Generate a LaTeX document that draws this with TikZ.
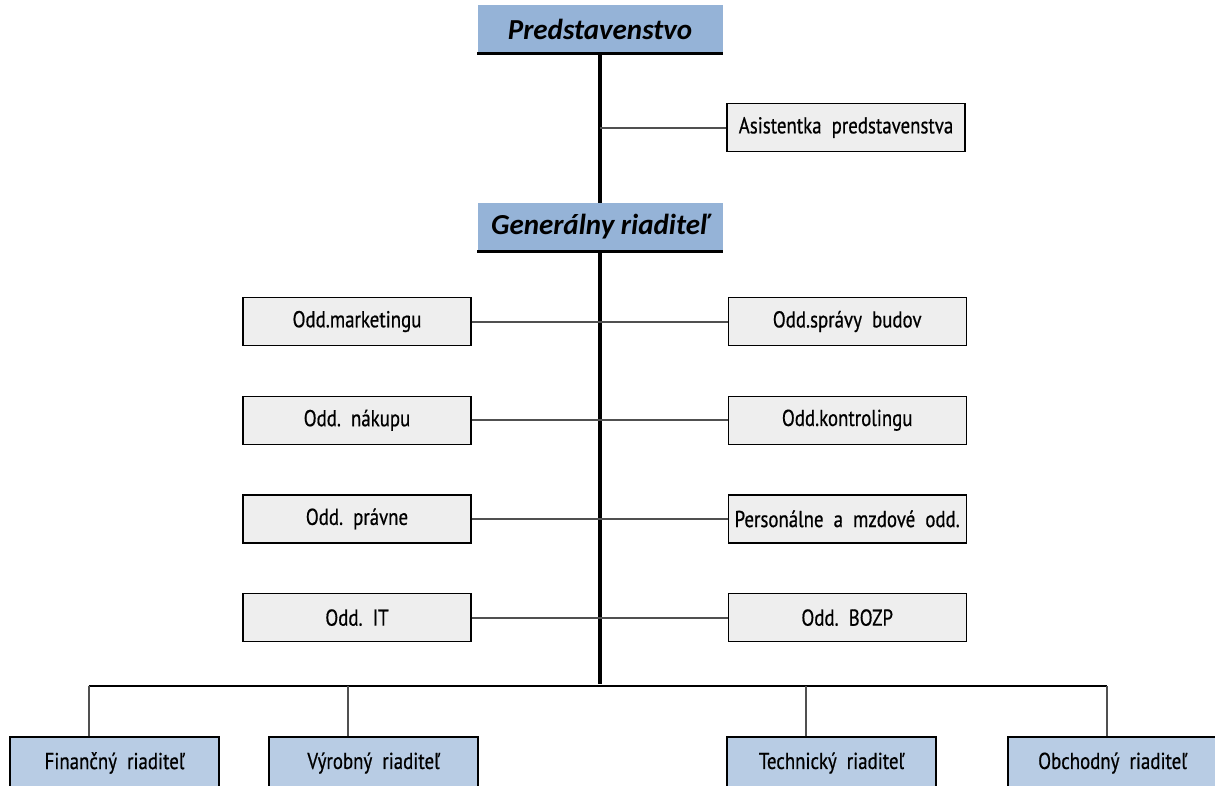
\documentclass[tikz,border=0pt]{standalone}
\usepackage{fontspec}
\setmainfont{Carlito}
\newfontfamily\narrowfont[FakeStretch=0.82,FakeBold=0.6]{PT Sans}
\usetikzlibrary{positioning}
\definecolor{headblue}{HTML}{95B3D7}
\definecolor{lowblue}{HTML}{B8CCE4}
\definecolor{boxgray}{HTML}{EEEEEE}
\definecolor{linegray}{HTML}{505050}

\begin{document}
\begin{tikzpicture}[x=1pt,y=-1pt,node distance=49.5pt and 256pt,thick]
\tikzstyle{head}=[rectangle,fill=headblue,minimum width=245pt,minimum height=48pt,inner sep=0pt,font=\fontsize{29}{33}\selectfont\bfseries\itshape]
\tikzstyle{dept}=[rectangle,draw,fill=boxgray,line width=1.2pt,minimum width=228pt,minimum height=48pt,inner sep=0pt,font=\narrowfont\fontsize{23}{26}\selectfont]
\tikzstyle{wide}=[dept,minimum width=238pt]
\tikzstyle{chief}=[rectangle,draw,fill=lowblue,line width=1.5pt,minimum width=209pt,minimum height=52pt,inner sep=0pt,font=\narrowfont\fontsize{23}{26}\selectfont]
\tikzstyle{link}=[draw=linegray,line width=2pt]
\useasboundingbox (0,0) rectangle (1215,785);

% top of the chart
\node[head] (board) at (600,29) {Predstavenstvo};
\node[head] (gm) at (600,227) {Generálny riaditeľ};
\node[wide] (assist) at (846,127.5) {Asistentka~~predstavenstva};

% departments
\node[dept] (mkt) at (357,321.5) {Odd.marketingu};
\node[dept, below=of mkt] (buy) {Odd.~~nákupu};
\node[dept, below=of buy] (legal) {Odd.~~právne};
\node[dept, below=of legal] (it) {Odd.~~IT};
\node[wide, right=of mkt] (bldg) {Odd.správy~~budov};
\node[wide, right=of buy] (ctrl) {Odd.kontrolingu};
\node[wide, right=of legal] (hr) {Personálne~~a~~mzdové~~odd.};
\node[wide, right=of it] (safety) {Odd.~~BOZP};

% directors
\node[chief] (fin) at (114.5,763) {Finančný~~riaditeľ};
\node[chief] (prod) at (373.5,763) {Výrobný~~riaditeľ};
\node[chief] (tech) at (831.5,763) {Technický~~riaditeľ};
\node[chief] (sales) at (1112.5,763) {Obchodný~~riaditeľ};
\coordinate (bus) at (600,686);

% trunk
\draw[line width=4pt] (board.south) -- (gm.north);
\draw[line width=4pt] (gm.south) -- ([yshift=2pt]bus);
\foreach \n in {board,gm}
  \draw[line width=2.5pt] (\n.south west) -- (\n.south east);

\draw[link] (assist.west) -- (assist.west -| board.south);
\draw[link] (mkt) -- (bldg);
\draw[link] (buy) -- (ctrl);
\draw[link] (legal) -- (hr);
\draw[link] (it) -- (safety);

% bus to directors
\draw[line width=2pt] ([xshift=-26pt]fin.north |- bus) -- ([xshift=-6pt]sales.north |- bus);
\foreach \n/\dx in {fin/-26pt,prod/-26pt,tech/-26pt,sales/-6pt}
  \draw[link] ([xshift=\dx]\n.north) -- ([xshift=\dx]\n.north |- bus);
\end{tikzpicture}
\end{document}
